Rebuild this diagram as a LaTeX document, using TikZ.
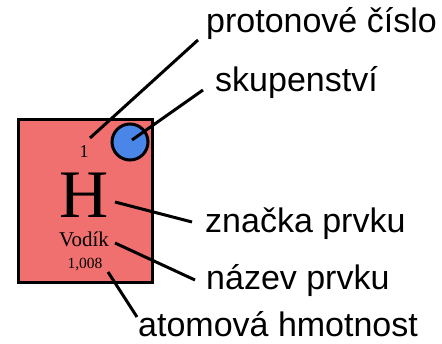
\documentclass[tikz,border=0pt]{standalone}
\usepackage{fontspec}
\setmainfont{Liberation Serif}
\newfontfamily\lblfont{Liberation Sans}
\definecolor{boxred}{RGB}{240,112,112}
\definecolor{stateblue}{RGB}{74,134,232}
\begin{document}
\begin{tikzpicture}[x=1pt,y=-1pt,
  lbl/.style={anchor=base west,inner sep=0pt,font=\lblfont\fontsize{34}{36}\selectfont},
  eltxt/.style={anchor=base,inner sep=0pt},
  conn/.style={line width=3pt,black}]
\useasboundingbox (0,0) rectangle (442,344);
% element box
\node[draw=black,line width=3pt,fill=boxred,minimum width=134pt,minimum height=163pt,inner sep=0pt] (box) at (85,201.5) {};
\node[draw=black,line width=3pt,fill=stateblue,circle,minimum size=36pt,inner sep=0pt] (state) at (130,142) {};
% element texts
\node[eltxt,font=\fontsize{18}{20}\selectfont] (num) at (84,158) {1};
\node[eltxt,font=\fontsize{68}{70}\selectfont] (sym) at (84,218) {H};
\node[eltxt,font=\fontsize{21}{23}\selectfont] (name) at (84,247) {Vodík};
\node[eltxt,font=\fontsize{15.5}{18}\selectfont] (mass) at (85,269) {1,008};
% labels
\node[lbl] (lprot) at (206,33) {protonové číslo};
\node[lbl] (lstate) at (215,92) {skupenství};
\node[lbl] (lsym) at (205,233) {značka prvku};
\node[lbl] (lname) at (206,290) {název prvku};
\node[lbl] (lmass) at (138,337) {atomová hmotnost};
% connector end points
\coordinate (pA) at (90,138);   \coordinate (pB) at (198,40);
\coordinate (sA) at (132,140);  \coordinate (sB) at (203,90);
\coordinate (hA) at (115,202);  \coordinate (hB) at (192,222);
\coordinate (nA) at (115,243);  \coordinate (nB) at (195,280);
\coordinate (mA) at (108,272);  \coordinate (mB) at (137,317);
\draw[conn] (pA) -- (pB);
\draw[conn] (sA) -- (sB);
\draw[conn] (hA) -- (hB);
\draw[conn] (nA) -- (nB);
\draw[conn] (mA) -- (mB);
\end{tikzpicture}
\end{document}
